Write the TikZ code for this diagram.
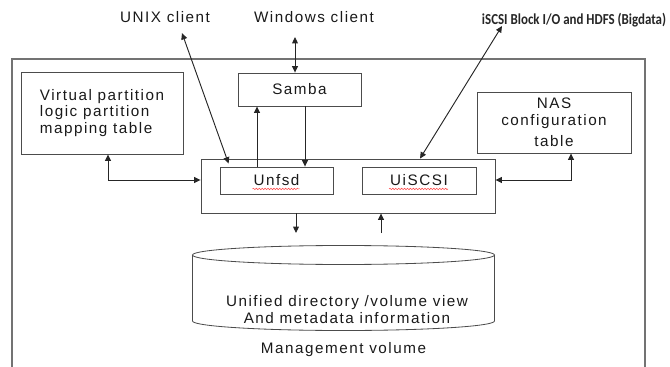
\documentclass[tikz,border=0pt]{standalone}
\usepackage{fontspec}
\setmainfont{Liberation Sans}[LetterSpace=10]
\newfontfamily\tagfont{Carlito}[FakeStretch=0.85]
\usetikzlibrary{arrows.meta, positioning, calc, decorations.pathmorphing}

\begin{document}
\begin{tikzpicture}[
    x=0.03cm, y=-0.03cm,
    font=\fontsize{13}{14}\selectfont,
    text=black!90,
    >={Triangle[length=5.5pt, width=5pt]},
    % --- box styles ---
    frame/.style = {draw=black!55, line width=1.1pt, inner sep=0pt},
    box/.style   = {draw=black!70, line width=0.7pt, inner sep=0pt, align=center},
    arr/.style   = {<->, line width=0.8pt, draw=black!85},
    one/.style   = {->, line width=0.8pt, draw=black!85},
    lbl/.style   = {inner sep=1pt, align=center},
    squig/.style = {draw=red!70, line width=0.5pt, decorate,
                    decoration={snake, amplitude=0.6pt, segment length=2.5pt}}
]
\useasboundingbox (0,0) rectangle (670,367);

% ===== outer system frame =====
\node[frame, minimum width=18.99cm, minimum height=9.27cm] (system) at (328.5,213.5) {};

% ===== clients on top =====
\node[lbl] (unix)    at (165,17) {UNIX client};
\node[lbl] (windows) at (314,17) {Windows client};
\node[lbl, font=\tagfont\bfseries\fontsize{13}{14}\selectfont, text=black!85] (iscsi) at (574,20)
    {iSCSI Block I/O and HDFS (Bigdata)};

% ===== inner boxes =====
\node[box] (samba) at (299.5,89.5) [minimum width=3.69cm, minimum height=0.99cm] {Samba};
\node[box, align=left] (vpart) at (102,113) [minimum width=4.86cm, minimum height=2.46cm]
    {Virtual partition\\ logic partition\\ mapping table};
\node[box] (nas) at (554,122.5) [minimum width=4.62cm, minimum height=1.83cm]
    {NAS\\ configuration\\[4pt] table};
\node[box] (core)   at (348,186)   [minimum width=8.82cm, minimum height=1.62cm] {};
\node[box] (unfsd)  at (276.5,180.5) [minimum width=3.39cm, minimum height=0.81cm] {Unfsd};
\node[box] (uiscsi) at (419,180.5) [minimum width=3.42cm, minimum height=0.81cm] {UiSCSI};

% spell-check marks under the two daemon names
\draw[squig] ([shift={(-24,3)}]unfsd.base)  -- ([shift={(23,3)}]unfsd.base);
\draw[squig] ([shift={(-30,3)}]uiscsi.base) -- ([shift={(29,3)}]uiscsi.base);

% ===== management volume (cylinder drawn on a blank node) =====
\node[inner sep=0pt, minimum width=9.06cm, minimum height=2.565cm] (volume) at (343.5,288) {};
\begin{scope}[shift={(volume.center)}, x=1cm, y=1cm, draw=black!70, line width=0.7pt]
    \draw (0,0.99) ellipse [x radius=4.53, y radius=0.285];
    \draw (-4.53,0.99) -- (-4.53,-0.99)
        arc [start angle=180, end angle=360, x radius=4.53, y radius=0.285] -- (4.53,0.99);
\end{scope}
\node[lbl] (voltext) at (347,309.5) {Unified directory /volume view\\ And metadata information};
\node[lbl, below=3mm of volume] (mgmt) {Management volume};

% ===== free ends =====
\coordinate (unixend)  at ($(unix.south)+(17,9)$);
\coordinate (winend)   at (295,37);
\coordinate (iscsiend) at (502,26);
\coordinate (voltop)   at ($(volume.north)+(0,-12)$);

% ===== connectors =====
\draw[arr] (unixend) -- ([shift={(9,-3)}]unfsd.north west);
\draw[arr] (winend) -- (winend |- samba.north);
\draw[arr] (iscsiend) -- (core.north -| 420,0);

\draw[one] (unfsd.north -| 257,0) -- (samba.south -| 257,0);
\draw[one] (samba.south -| 305,0) -- (unfsd.north -| 305,0);

\draw[arr] (vpart.south -| 108,0) |- (core.west |- 0,180);
\draw[arr] (nas.south -| 571,0)   |- (core.east |- 0,180);

\draw[one] (core.south -| 296,0) -- (voltop -| 296,0);
\draw[one] (voltop -| 381,0) -- (core.south -| 381,0);

\end{tikzpicture}
\end{document}
